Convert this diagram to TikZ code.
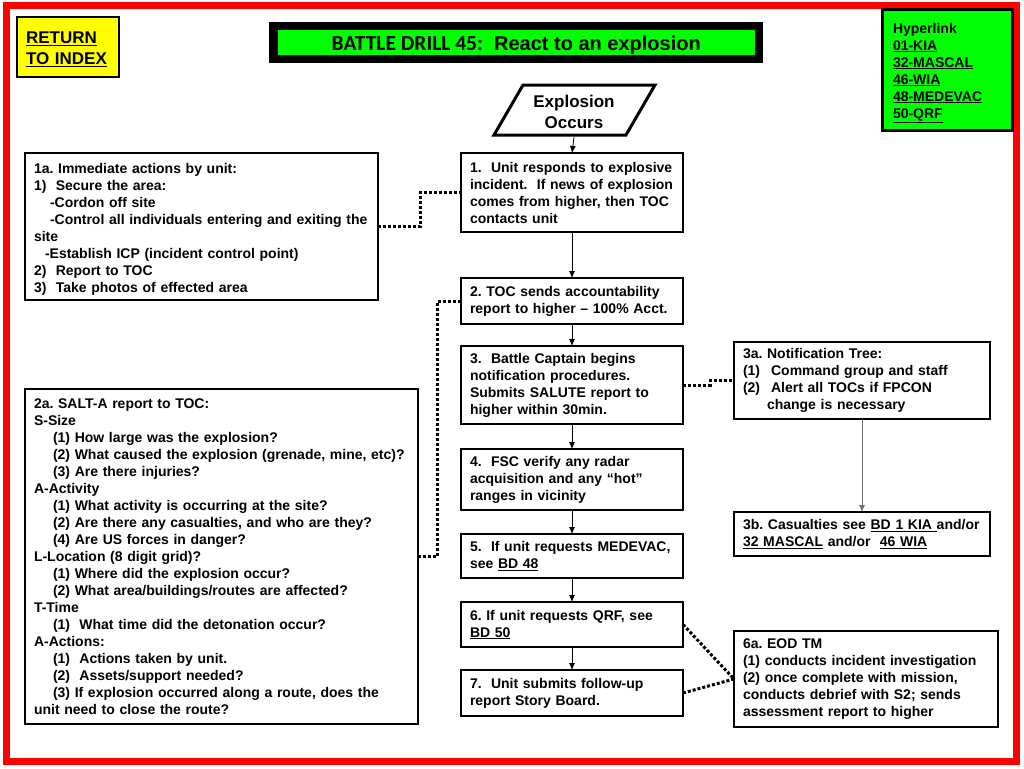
\documentclass[tikz,border=0pt]{standalone}
\usepackage{fontspec}
\setmainfont{Liberation Sans}
\newfontfamily\calibri{Carlito}
\usepackage{tikz}
\usetikzlibrary{arrows.meta,backgrounds,calc}
\definecolor{framered}{RGB}{255,0,0}
\definecolor{linkgreen}{RGB}{0,255,0}
\definecolor{indexyellow}{RGB}{255,255,0}
\definecolor{treegray}{RGB}{110,110,110}
\frenchspacing

\begin{document}
\begin{tikzpicture}[x=1pt,y=-1pt,
  stepbox/.style={draw, line width=1.4pt, anchor=north west, align=left, inner xsep=9pt, inner ysep=0pt, outer sep=0pt, font=\bfseries\fontsize{14}{17}\selectfont},
  flow/.style={-{Latex[length=7pt,width=6pt]}, line width=0.8pt},
  dotline/.style={line width=3pt, dash pattern=on 3pt off 2pt}]
\useasboundingbox (0,0) rectangle (1024,768);
\fill[white] (0,0) rectangle (1024,768);
\draw[framered, line width=7pt] (6.5,6) rectangle (1016.5,761);

\node[stepbox, fill=indexyellow, line width=2.5pt, text width=84pt, minimum height=60pt, font=\bfseries\fontsize{17}{20.5}\selectfont] (index) at (17,17) {\rule{0pt}{16pt}\underline{RETURN}\\\underline{TO INDEX}};
\node[draw=black, fill=linkgreen, line width=8.5pt, minimum width=485.5pt, minimum height=33pt, inner sep=0pt, font=\bfseries\fontsize{20}{24}\selectfont] (title) at (516.25,42.5) {\raisebox{-3pt}[\height][\depth]{{\calibri\fontsize{21.5}{24}\selectfont BATTLE DRILL 45:}\ \ React to an explosion}};
\node[stepbox, fill=linkgreen, line width=3pt, inner xsep=11pt, text width=108pt, minimum height=120pt] (links) at (882,10) {\rule{0pt}{16pt}Hyperlink\\\underline{01-KIA}\\\underline{32-MASCAL}\\\underline{46-WIA}\\\underline{48-MEDEVAC}\\\underline{50-QRF}};

\draw[line width=3pt, line join=miter] (494,135) -- (523,85) -- (655,85) -- (626,135) -- cycle;
\node[align=center, minimum height=50pt, inner sep=0pt, font=\bfseries\fontsize{17}{21}\selectfont] (explosion) at (574,112) {Explosion\\Occurs};

\node[stepbox, text width=204pt, minimum height=79pt] (s1) at (461,153) {1.\ \ Unit responds to explosive\\incident.\ \ If news of explosion\\comes from higher, then TOC\\contacts unit};
\node[stepbox, text width=204pt, minimum height=46pt] (s2) at (461,278) {2. TOC sends accountability\\report to higher -- 100\% Acct.};
\node[stepbox, text width=204pt, minimum height=78pt] (s3) at (461,346) {3.\ \ Battle Captain begins\\notification procedures.\\Submits SALUTE report to\\higher within 30min.};
\node[stepbox, text width=204pt, minimum height=61pt] (s4) at (461,449) {4.\ \ FSC verify any radar\\acquisition and any “hot”\\ranges in vicinity};
\node[stepbox, text width=204pt, minimum height=44pt] (s5) at (461,534) {5.\ \ If unit requests MEDEVAC,\\see \underline{BD 48}};
\node[stepbox, text width=204pt, minimum height=45pt] (s6) at (461,602) {6. If unit requests QRF, see\\\underline{BD 50}};
\node[stepbox, text width=204pt, minimum height=46pt] (s7) at (461,670) {7.\ \ Unit submits follow-up\\report Story Board.};

\node[stepbox, text width=335pt, minimum height=147pt] (a1) at (25,153) {\rule{0pt}{15pt}1a. Immediate actions by unit:\\1)\ \ Secure the area:\\\hspace*{16pt}-Cordon off site\\\hspace*{16pt}-Control all individuals entering and exiting the\\site\\\hspace*{11pt}-Establish ICP (incident control point)\\2)\ \ Report to TOC\\3)\ \ Take photos of effected area};
\node[stepbox, text width=375pt, minimum height=335pt] (a2) at (25,389) {2a. SALT-A report to TOC:\\S-Size\\\hspace*{19pt}(1) How large was the explosion?\\\hspace*{19pt}(2) What caused the explosion (grenade, mine, etc)?\\\hspace*{19pt}(3) Are there injuries?\\A-Activity\\\hspace*{19pt}(1) What activity is occurring at the site?\\\hspace*{19pt}(2) Are there any casualties, and who are they?\\\hspace*{19pt}(4) Are US forces in danger?\\L-Location (8 digit grid)?\\\hspace*{19pt}(1) Where did the explosion occur?\\\hspace*{19pt}(2) What area/buildings/routes are affected?\\T-Time\\\hspace*{19pt}(1)\ \ What time did the detonation occur?\\A-Actions:\\\hspace*{19pt}(1)\ \ Actions taken by unit.\\\hspace*{19pt}(2)\ \ Assets/support needed?\\\hspace*{19pt}(3) If explosion occurred along a route, does the\\unit need to close the route?};
\node[stepbox, text width=238pt, minimum height=77pt] (a3) at (734,342) {3a. Notification Tree:\\(1)\hspace{11pt}Command group and staff\\(2)\hspace{11pt}Alert all TOCs if FPCON\\\hspace*{24pt}change is necessary};
\node[stepbox, text width=238pt, minimum height=44pt] (b3) at (734,512) {3b. Casualties see \underline{BD 1 KIA\ }and/or\\\underline{32 MASCAL} and/or\ \ \underline{46 WIA}};
\node[stepbox, text width=246pt, minimum height=96pt] (a6) at (734,631) {6a. EOD TM\\(1) conducts incident investigation\\(2) once complete with mission,\\conducts debrief with S2; sends\\assessment report to higher};

\draw[flow] (explosion.south) -- (s1.north);
\draw[flow] (s1.south) -- (s2.north);
\draw[flow] (s2.south) -- (s3.north);
\draw[flow] (s3.south) -- (s4.north);
\draw[flow] (s4.south) -- (s5.north);
\draw[flow] (s5.south) -- (s6.north);
\draw[flow] (s6.south) -- (s7.north);
\draw[flow, treegray] (a3.south) -- (b3.north);

\draw[dotline] (a1.east) -- ++(42,0) |- (s1.west);
\draw[dotline] (a2.east) -- ++(19,0) |- (s2.west);
\draw[dotline] (s3.east) -- ++(27,0) |- (a3.west);
\draw[dotline] (s6.east) -- (a6.west);
\draw[dotline] (s7.east) -- (a6.west);
\end{tikzpicture}
\end{document}
